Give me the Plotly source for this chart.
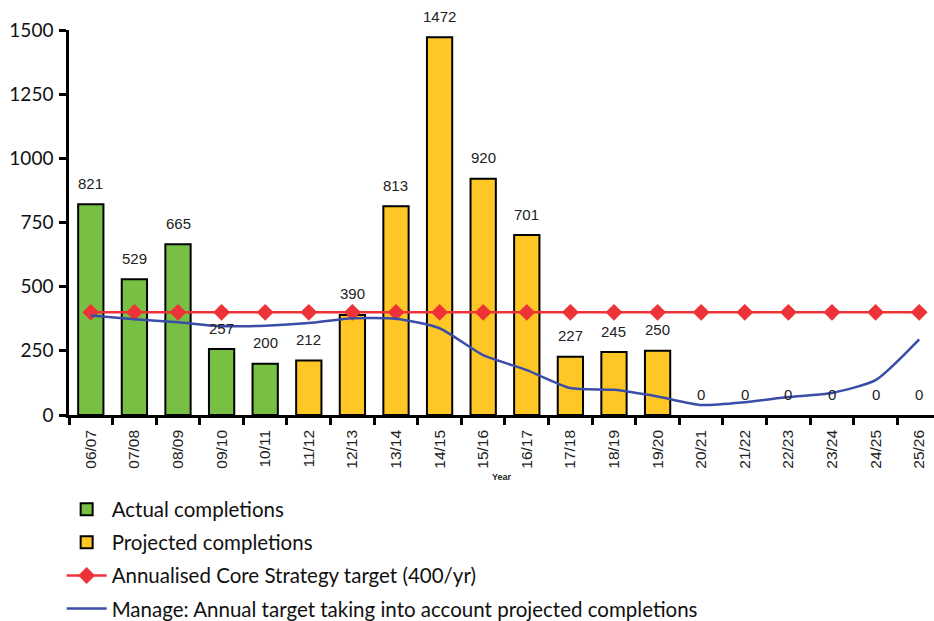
import plotly.graph_objects as go

years = ["06/07", "07/08", "08/09", "09/10", "10/11", "11/12", "12/13", "13/14", "14/15", "15/16",
         "16/17", "17/18", "18/19", "19/20", "20/21", "21/22", "22/23", "23/24", "24/25", "25/26"]
actual_years = years[:5]
actual_values = [821, 529, 665, 257, 200]
projected_years = years[5:]
projected_values = [212, 390, 813, 1472, 920, 701, 227, 245, 250, 0, 0, 0, 0, 0, 0]
target_values = [400] * 20
manage_values = [388, 373, 361, 346, 348, 358, 377, 375, 338, 233,
                 175, 105, 98, 72, 39, 50, 70, 86, 136, 295]
label_values = actual_values + projected_values
y_ticks = [0, 250, 500, 750, 1000, 1250, 1500]

GREEN = "#77C043"
YELLOW = "#FFC726"
RED = "#EE3338"
BLUE = "#3A4DA8"

fig = go.Figure()
fig.add_trace(go.Bar(x=actual_years, y=actual_values, name="Actual completions",
                     marker=dict(color=GREEN, line=dict(color="black", width=2)),
                     width=0.58, legendgroup="a"))
fig.add_trace(go.Bar(x=projected_years, y=projected_values, name="Projected completions",
                     marker=dict(color=YELLOW, line=dict(color="black",
                                                         width=[2 if v > 0 else 0 for v in projected_values])),
                     width=0.58, legendgroup="b"))
fig.add_trace(go.Scatter(x=years, y=target_values, name="Annualised Core Strategy target (400/yr)",
                         mode="lines+markers", line=dict(color=RED, width=2.5),
                         marker=dict(symbol="diamond", size=13, color=RED), legendgroup="c",
                         cliponaxis=False))
fig.add_trace(go.Scatter(x=years, y=manage_values,
                         name="Manage: Annual target taking into account projected completions",
                         mode="lines", line=dict(color=BLUE, width=2.5, shape="spline", smoothing=0.6),
                         legendgroup="d"))

for yr, v in zip(years, label_values):
    fig.add_annotation(x=yr, y=v, text=str(v), showarrow=False, yshift=21,
                       font=dict(family="Liberation Sans, Arial", size=15, color="#222"))

fig.update_layout(
    width=934, height=621,
    margin=dict(l=69, r=0, t=30, b=206, autoexpand=False),
    plot_bgcolor="white", paper_bgcolor="white",
    barmode="overlay",
    showlegend=True,
    legend=dict(x=-0.0085, y=-0.193, xanchor="left", yanchor="top", orientation="v",
                font=dict(family="Lato, Carlito, Calibri, sans-serif", size=20.5, color="#111"),
                tracegroupgap=3.5, itemwidth=40, traceorder="grouped"),
    xaxis=dict(type="category", categoryorder="array", categoryarray=years, automargin=False,
               range=[-0.5, 19.34], showline=True, linecolor="black", linewidth=2.5,
               ticks="outside", ticklen=7, tickwidth=2.5, tickcolor="black", tickson="boundaries",
               ticklabelstandoff=6,
               tickangle=-90, tickfont=dict(family="Liberation Sans, Arial", size=15.5, color="#222"),
               title=dict(text="<b>Year</b>", font=dict(family="Liberation Sans, Arial", size=9, color="#222"),
                          standoff=6)),
    yaxis=dict(range=[0, 1500], tickvals=y_ticks, showline=True, linecolor="black", linewidth=2.5,
               automargin=False, ticklabelstandoff=2,
               ticks="outside", ticklen=7, tickwidth=2.5, tickcolor="black", showgrid=False,
               zeroline=False, tickfont=dict(family="Lato, Carlito, sans-serif", size=19, color="#111")),
    yaxis2=dict(range=[0, 1500], tickvals=y_ticks, overlaying="y", side="left", anchor="x",
                showline=False, showticklabels=False, automargin=False,
                ticks="inside", ticklen=9, tickwidth=2.5, tickcolor="black", showgrid=False,
                zeroline=False),
)

fig.write_html("out.html", config={"displayModeBar": False})

with open("out.html", "r", encoding="utf-8") as f:
    html = f.read()
html = html.replace("<head>", "<head><style>html,body{margin:0;padding:0;overflow:hidden;}</style>", 1)
with open("out.html", "w", encoding="utf-8") as f:
    f.write(html)
